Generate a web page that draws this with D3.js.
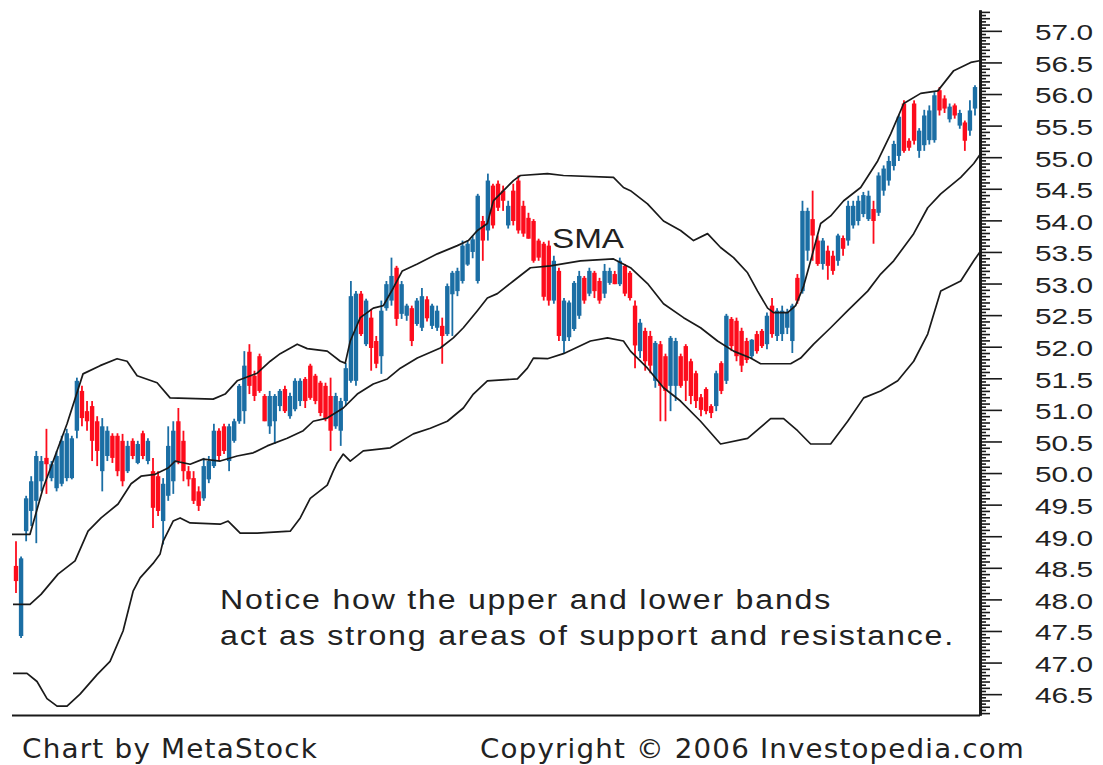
<!DOCTYPE html>
<html><head><meta charset="utf-8">
<script src="https://cdn.jsdelivr.net/npm/d3@7"></script>
<style>body{margin:0;background:#fff;} svg{display:block;}</style>
</head><body>
<svg id="c" width="1103" height="765"></svg>
<script>
// daily bars: [open, high, low, close]
const ohlc = [
[48.53,48.92,48.10,48.29],[47.42,48.68,47.39,48.65],[49.08,49.64,48.92,49.60],[49.40,49.95,49.16,49.87],
[49.56,50.35,48.89,50.27],[49.87,50.27,49.71,50.19],[50.24,50.70,49.67,50.14],[49.92,50.19,49.87,50.14],
[49.76,50.35,49.71,50.27],[49.83,50.59,49.79,50.51],[49.92,50.70,49.87,50.63],[49.92,50.59,49.90,50.55],
[50.67,51.51,50.55,51.46],[51.30,51.38,50.74,50.87],[50.98,51.14,50.67,50.82],[51.06,51.14,50.19,50.51],
[50.82,50.90,50.11,50.35],[50.03,50.87,49.71,50.74],[50.27,50.74,50.19,50.67],[50.59,50.63,50.16,50.24],
[50.59,50.63,49.95,50.03],[50.51,50.62,49.79,49.87],[50.03,50.51,50.00,50.43],[50.51,50.55,50.22,50.27],
[50.16,50.51,50.14,50.46],[50.63,50.67,50.22,50.27],[50.19,50.55,50.14,50.51],[50.03,50.24,49.13,49.45],
[49.95,50.03,49.32,49.40],[49.24,49.92,48.87,49.83],[49.64,50.74,49.56,50.43],
[49.87,50.82,49.67,50.67],[50.82,51.03,50.14,50.19],[50.51,50.67,49.87,50.03],[50.03,50.11,49.79,49.90],
[49.92,50.03,49.51,49.56],[49.71,49.79,49.40,49.48],[49.60,50.24,49.56,50.11],[49.90,50.27,49.84,50.19],
[50.11,50.78,50.08,50.67],[50.67,50.71,50.19,50.27],[50.74,50.78,50.30,50.35],[50.19,50.78,50.03,50.74],
[50.51,50.86,50.48,50.82],[50.82,51.41,50.78,51.38],[50.98,51.93,50.78,51.70],[51.92,52.04,51.25,51.38],
[51.54,51.62,51.14,51.22],[51.85,51.89,51.27,51.30],[51.22,51.25,50.82,50.82],[50.74,51.30,50.62,51.22],
[50.82,51.25,50.46,51.22],[51.06,51.33,50.98,51.30],[51.33,51.38,50.95,50.98],[50.90,51.27,50.86,51.22],
[51.01,51.50,50.98,51.46],[51.14,51.50,51.06,51.46],[51.49,51.52,51.03,51.14],[51.70,51.73,51.16,51.19],
[51.54,51.57,51.09,51.14],[51.43,51.46,50.90,50.95],[51.38,51.43,50.82,50.87],[51.22,51.51,50.35,50.67],
[50.74,51.27,50.70,51.22],[50.67,51.19,50.43,51.14],
[51.14,51.74,51.06,51.66],[51.46,53.04,51.43,52.80],[51.46,52.88,51.38,52.84],[52.84,52.88,52.17,52.20],
[52.04,52.76,52.01,52.73],[52.46,52.60,51.62,51.98],[52.09,52.17,51.66,51.73],[51.85,52.73,51.57,52.57],
[52.61,53.04,52.57,52.99],[52.73,53.41,52.65,53.12],[53.25,53.28,52.33,52.44],[52.52,53.04,52.44,52.99],
[52.49,52.68,52.41,52.65],[52.61,52.65,52.01,52.09],[52.36,52.77,52.33,52.73],[52.30,52.93,52.25,52.80],
[52.75,52.80,52.40,52.45],[52.33,52.68,52.28,52.65],[52.30,52.65,52.25,52.57],[52.33,52.46,51.73,52.17],
[52.20,53.00,52.17,52.96],[52.83,53.20,52.17,53.17],[52.88,53.25,52.80,53.20],[53.04,53.68,53.00,53.60],
[53.30,53.68,53.28,53.63],[53.50,53.75,53.40,53.70],[53.04,54.42,53.00,54.39],[53.99,54.07,53.36,53.68],
[53.84,54.74,53.68,54.63],[54.55,54.58,53.87,53.92],
[54.58,54.63,54.15,54.20],[54.47,54.55,54.15,54.31],[53.92,54.31,53.87,54.23],[54.47,54.58,53.92,53.99],
[54.63,54.71,53.79,53.84],[54.23,54.31,53.74,53.79],[54.04,54.12,53.71,53.71],[53.99,54.02,53.33,53.36],
[53.68,53.71,53.36,53.41],[53.63,53.66,52.73,52.79],[53.60,53.68,52.65,52.73],[52.73,53.44,52.68,53.36],
[53.20,53.25,52.09,52.17],[52.09,52.77,51.89,52.73],[52.15,52.73,52.09,52.70],[52.28,53.04,52.25,53.01],
[52.49,53.20,52.44,53.12],[53.09,53.12,52.68,52.73],[52.84,53.25,52.80,53.20],[53.17,53.20,52.77,52.88],
[53.04,53.09,52.68,52.73],[52.84,53.31,52.77,53.20],[53.01,53.25,52.98,53.20],[53.15,53.20,52.99,52.99],
[52.99,53.41,52.96,53.36],[53.28,53.31,52.80,52.84],[53.17,53.20,52.73,52.77],[52.65,52.73,51.66,52.02],
[51.93,52.44,51.82,52.38],[52.25,52.30,51.62,51.77],[52.17,52.25,51.58,51.70],
[51.46,52.09,51.35,52.06],[52.04,52.09,50.82,51.38],[51.85,51.89,50.82,51.30],[51.38,52.17,50.98,52.14],
[51.38,52.14,51.14,52.09],[51.85,51.89,51.35,51.38],[52.01,52.04,51.14,51.46],[51.77,51.81,51.09,51.22],
[51.58,51.62,51.03,51.14],[51.20,51.25,50.90,51.00],[51.33,51.36,50.93,50.98],[51.06,51.09,50.87,50.95],
[51.06,51.62,50.98,51.58],[51.74,51.77,51.25,51.30],[51.46,52.52,51.41,52.49],[52.44,52.47,51.93,52.01],
[52.41,52.46,51.77,51.85],[52.25,52.30,51.60,51.70],[52.09,52.14,51.74,51.79],[51.85,52.12,51.82,52.11],
[52.20,52.25,51.89,51.93],[52.25,52.28,51.98,52.01],[52.04,52.54,51.96,52.49],[52.65,52.77,52.14,52.20],
[52.17,52.61,52.09,52.57],[52.20,52.65,52.09,52.57],[52.30,52.60,52.20,52.55],[52.09,52.68,51.90,52.65],
[53.09,53.15,52.68,52.73],[52.88,54.31,52.84,54.15],[53.52,54.20,53.36,54.15],[54.02,54.47,53.36,53.76],
[53.68,53.76,53.28,53.31],[53.31,53.72,53.22,53.68],[53.52,53.60,53.06,53.28],[53.44,53.52,53.14,53.20],
[53.36,53.79,53.28,53.76],[53.72,53.76,53.44,53.55],[53.68,54.31,53.60,54.23],[53.92,54.31,53.87,54.23],
[53.99,54.39,53.92,54.31],[54.10,54.45,54.05,54.40],[54.02,54.47,53.99,54.39],[54.18,54.31,53.63,53.99],
[54.12,54.76,54.07,54.71],[54.47,54.87,54.39,54.82],[54.63,55.02,54.55,54.94],[54.86,55.26,54.79,55.21],
[55.02,55.67,54.94,55.64],[55.85,55.90,55.07,55.10],[55.26,55.30,55.10,55.15],[55.85,55.90,55.20,55.26],
[55.10,55.46,54.99,55.42],[55.19,55.75,55.10,55.66],[55.27,55.82,55.20,55.74],[55.27,56.03,55.23,55.98],
[56.06,56.11,55.66,55.74],[55.93,55.98,55.70,55.77],[55.60,55.85,55.55,55.80],[55.82,55.85,55.61,55.66],
[55.50,55.75,55.45,55.70],[55.55,55.58,55.10,55.26],[55.42,55.90,55.34,55.74],[55.77,56.14,55.66,56.11]
];

// Bollinger bands: [bar index, value]
const upperBand = [
[-0.79,49.03],[2.76,49.03],[5.33,49.76],[10.06,50.78],[13.21,51.57],[16.57,51.70],[19.92,51.81],[21.89,51.77],
[23.87,51.54],[27.81,51.43],[30.37,51.19],[38.86,51.17],[41.22,51.25],[43.59,51.46],[47.53,51.58],[50.1,51.77],
[52.07,51.89],[55.42,52.04],[57.4,51.97],[61.34,51.93],[63.91,51.77],[64.89,51.74],[65.88,52.09],[67.85,52.46],
[70.41,52.61],[72.39,52.65],[74.36,52.93],[76.13,53.20],[79.09,53.31],[83.04,53.47],[86.98,53.60],[89.15,53.68],
[90.93,53.84],[92.9,53.95],[94.08,54.31],[98.03,54.63],[99.41,54.71],[104.73,54.74],[107.89,54.71],[117.75,54.68],
[119.72,54.52],[121.1,54.47],[124.46,54.26],[127.61,53.99],[130.97,53.84],[133.53,53.68],[136.29,53.79],[138.86,53.57],
[141.42,53.41],[144.18,53.17],[146.15,52.88],[148.13,52.61],[149.31,52.54],[152.07,52.54],[153.65,52.65],[155.23,52.96],
[156.61,53.36],[158.58,53.95],[160.55,54.07],[163.12,54.31],[166.47,54.52],[169.82,54.94],[172.39,55.37],[174.95,55.85],
[178.3,56.01],[181.66,56.05],[184.81,56.37],[188.17,56.50],[190.14,56.53]
];
const smaLine = [
[-0.59,47.92],[2.76,47.92],[4.93,48.08],[8.28,48.40],[11.64,48.61],[14.2,49.08],[16.77,49.29],[20.12,49.51],
[22.68,49.83],[24.65,49.95],[27.42,49.98],[29.98,50.08],[31.36,50.19],[34.32,50.14],[36.88,50.22],[40.24,50.19],
[43.59,50.27],[46.75,50.32],[49.51,50.43],[53.45,50.55],[56.61,50.67],[58.58,50.82],[61.34,50.87],[64.5,51.03],
[67.26,51.25],[70.41,51.41],[73.18,51.49],[75.74,51.66],[79.09,51.82],[83.63,51.98],[86.19,52.14],[88.17,52.30],
[90.93,52.57],[92.9,52.77],[94.87,52.84],[98.03,53.04],[101.38,53.25],[105.33,53.28],[111.24,53.36],[117.75,53.39],
[121.1,53.25],[124.46,53.00],[127.61,52.68],[131.56,52.46],[134.91,52.30],[138.26,52.09],[141.42,51.93],[144.77,51.82],
[146.75,51.73],[152.66,51.73],[154.64,51.82],[157.2,52.04],[160.55,52.30],[163.91,52.57],[167.85,52.88],[170.41,53.15],
[172.98,53.36],[176.92,53.79],[179.68,54.20],[182.25,54.42],[186.19,54.68],[188.76,54.90],[190.14,55.06]
];
const lowerBand = [
[-0.59,46.83],[2.17,46.83],[4.14,46.70],[6.11,46.43],[8.09,46.31],[10.06,46.31],[12.62,46.50],[15.98,46.81],
[18.54,47.02],[21.1,47.50],[23.08,48.13],[24.46,48.34],[27.02,48.57],[28.4,48.72],[28.99,48.92],[30.97,49.24],
[32.35,49.29],[34.32,49.21],[40.24,49.19],[41.81,49.24],[44.18,49.05],[47.53,49.05],[54.04,49.08],[56.02,49.29],
[57.99,49.60],[61.34,49.81],[62.52,50.03],[63.31,50.16],[64.5,50.30],[65.88,50.19],[68.44,50.35],[73.77,50.40],
[78.3,50.62],[81.66,50.71],[85.01,50.82],[88.17,51.03],[90.14,51.25],[92.9,51.46],[98.82,51.49],[100.79,51.66],
[101.97,51.82],[104.73,51.81],[107.89,51.89],[113.21,52.09],[116.57,52.14],[119.72,52.09],[121.1,51.93],[124.46,51.66],
[127.61,51.35],[130.97,51.14],[134.91,50.82],[138.86,50.46],[144.18,50.55],[148.72,50.86],[151.28,50.86],[154.04,50.67],
[156.61,50.46],[160.55,50.46],[163.91,50.82],[167.06,51.19],[170.41,51.30],[173.77,51.46],[176.92,51.77],[179.68,52.20],
[182.25,52.88],[186.19,53.04],[188.76,53.36],[190.14,53.52]
];

const tickLabels = ["57.0","56.5","56.0","55.5","55.0","54.5","54.0","53.5","53.0","52.5","52.0","51.5",
  "51.0","50.5","50.0","49.5","49.0","48.5","48.0","47.5","47.0","46.5"];
const noteLines = ["Notice how the upper and lower bands", "act as strong areas of support and resistance."];
const bandLabel = "SMA";
const footerLeft = "Chart by MetaStock";
const footerRight = "Copyright \u00A9 2006 Investopedia.com";

const BLUE = "#1b6ea4", RED = "#fd0c1c", INK = "#1a1a1a", TXT = "#222";
const font = "'Liberation Sans', Arial, sans-serif";
const narrow = "'Liberation Sans Narrow', 'DejaVu Sans Condensed', 'Liberation Sans', sans-serif";
const svg = d3.select("#c");
const N = ohlc.length;
const x = d3.scaleLinear().domain([0, N - 1]).range([16, 975]);
const y = d3.scaleLinear().domain([46.17, 57.33]).range([715, 10]);
const axisX = 980;

// candles
const g = svg.append("g");
ohlc.forEach((d, i) => {
  const [o, h, l, c] = d;
  const col = c >= o ? BLUE : RED;
  const cx = x(i);
  g.append("line").attr("x1", cx).attr("x2", cx).attr("y1", y(h)).attr("y2", y(l))
    .attr("stroke", col).attr("stroke-width", 1.8);
  const top = y(Math.max(o, c)), bot = y(Math.min(o, c));
  g.append("rect").attr("x", cx - 2.2).attr("width", 4.4).attr("y", top)
    .attr("height", Math.max(1.5, bot - top)).attr("fill", col);
});

// bands
[upperBand, smaLine, lowerBand].forEach(b => {
  svg.append("path").datum(b)
    .attr("d", d3.line().x(d => x(d[0])).y(d => y(d[1])))
    .attr("fill", "none").attr("stroke", INK).attr("stroke-width", 1.7)
    .attr("stroke-linejoin", "round");
});

// bottom frame line
svg.append("line").attr("x1", 12).attr("x2", axisX).attr("y1", 715.5).attr("y2", 715.5)
  .attr("stroke", INK).attr("stroke-width", 2);

// right axis
const majors = tickLabels.map(Number);
const minors = d3.range(46.2, 57.33, 0.05).map(v => +v.toFixed(2))
  .filter(v => !majors.some(m => Math.abs(m - v) < 1e-6));
const minor10 = minors.filter(v => Math.abs(v * 10 - Math.round(v * 10)) < 1e-6);
const minor05 = minors.filter(v => Math.abs(v * 10 - Math.round(v * 10)) >= 1e-6);

const ax1 = svg.append("g").attr("transform", `translate(${axisX},0)`)
  .call(d3.axisRight(y).tickValues(minor05).tickSize(6).tickSizeOuter(0).tickFormat(""));
const ax2 = svg.append("g").attr("transform", `translate(${axisX},0)`)
  .call(d3.axisRight(y).tickValues(minor10).tickSize(10).tickSizeOuter(0).tickFormat(""));
const ax3 = svg.append("g").attr("transform", `translate(${axisX},0)`)
  .call(d3.axisRight(y).tickValues(majors).tickSize(22).tickSizeOuter(0).tickPadding(33)
    .tickFormat((d, i) => tickLabels[i]));
[ax1, ax2, ax3].forEach(a => {
  a.selectAll("path.domain").attr("stroke", INK).attr("stroke-width", 2.5);
  a.selectAll(".tick line").attr("stroke", INK).attr("stroke-width", 1.6);
});
ax3.selectAll(".tick text")
  .attr("fill", TXT).style("font-family", font)
  .style("font-size", "22px").attr("dy", "0.4em")
  .attr("textLength", 58).attr("lengthAdjust", "spacingAndGlyphs");

// texts
svg.append("text").attr("x", 552).attr("y", 248).text(bandLabel)
  .attr("font-family", font).attr("font-size", 27).attr("fill", TXT)
  .attr("textLength", 72).attr("lengthAdjust", "spacingAndGlyphs");
svg.append("text").attr("x", 220).attr("y", 609).text(noteLines[0])
  .attr("font-family", font).attr("font-size", 27).attr("fill", TXT)
  .style("letter-spacing", "1.5px")
  .attr("textLength", 612).attr("lengthAdjust", "spacingAndGlyphs");
svg.append("text").attr("x", 220).attr("y", 645).text(noteLines[1])
  .attr("font-family", font).attr("font-size", 27).attr("fill", TXT)
  .style("letter-spacing", "1.5px")
  .attr("textLength", 735).attr("lengthAdjust", "spacingAndGlyphs");
svg.append("text").attr("x", 22).attr("y", 758).text(footerLeft)
  .attr("font-family", narrow).attr("font-size", 26).attr("fill", TXT)
  .style("letter-spacing", "1px")
  .attr("textLength", 296).attr("lengthAdjust", "spacingAndGlyphs");
svg.append("text").attr("x", 480).attr("y", 758).text(footerRight)
  .attr("font-family", narrow).attr("font-size", 26).attr("fill", TXT)
  .style("letter-spacing", "1px")
  .attr("textLength", 545).attr("lengthAdjust", "spacingAndGlyphs");
</script>
</body></html>
